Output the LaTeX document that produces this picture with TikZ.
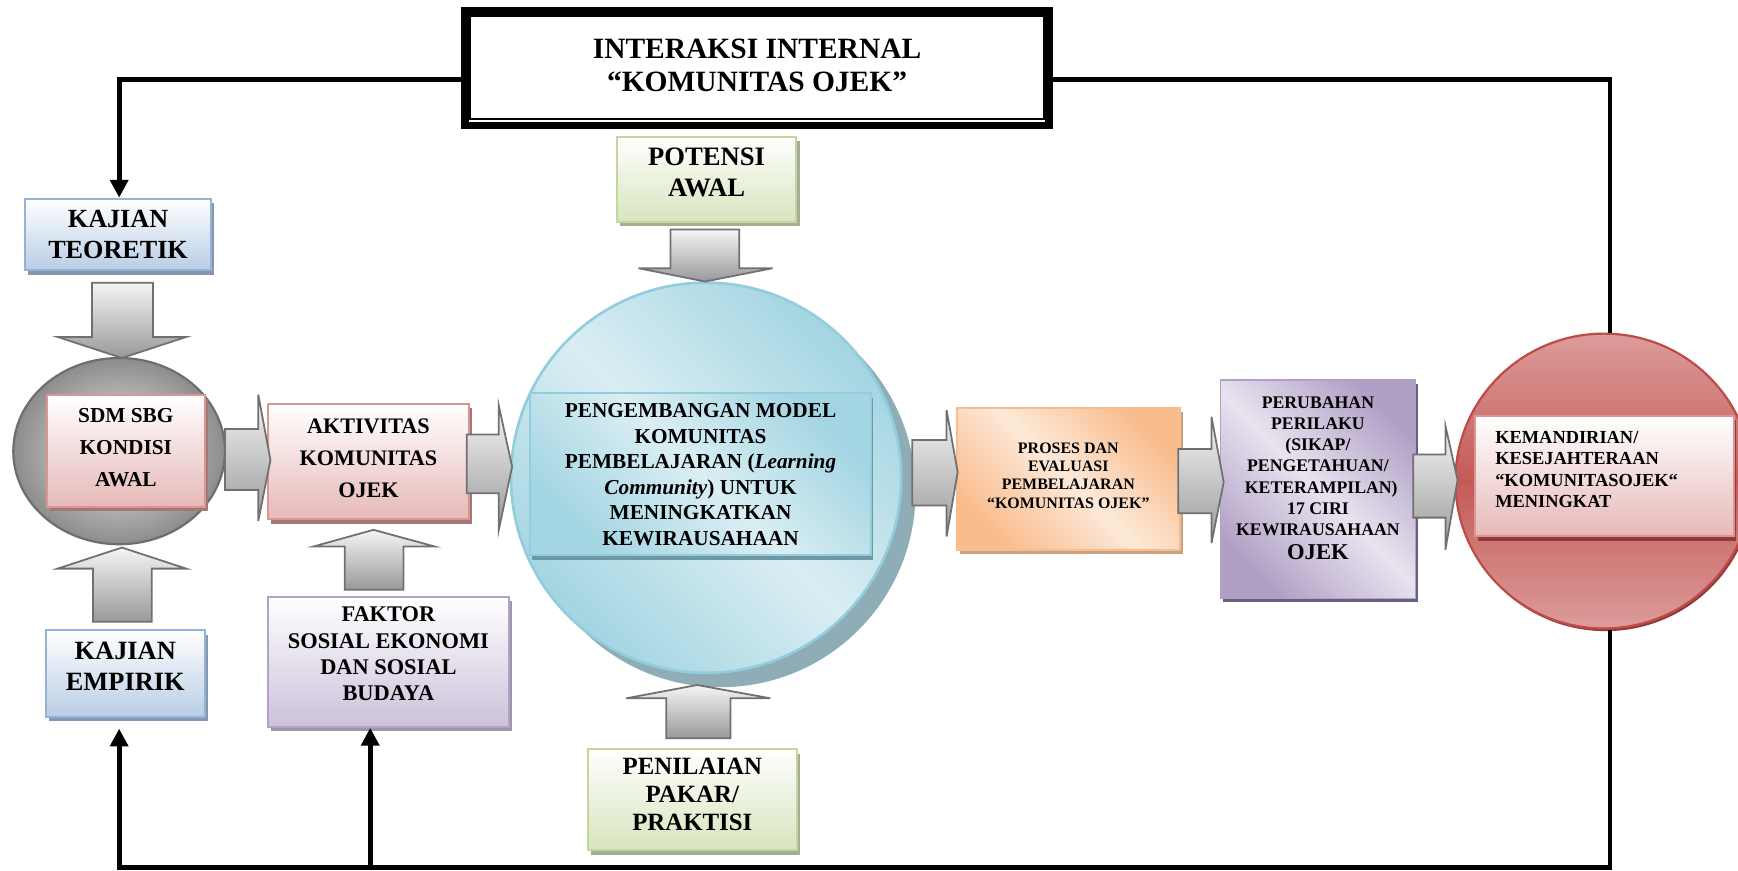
\documentclass[tikz,border=0pt]{standalone}
\usepackage{fontspec}
\setmainfont{Liberation Serif}
\usetikzlibrary{arrows.meta,shapes.geometric,shadows}
\definecolor{blueB}{HTML}{B9CDE5}
\definecolor{blueD}{HTML}{95B3D7}
\definecolor{blueS}{HTML}{8497B0}
\definecolor{pinkB}{HTML}{E6B9B8}
\definecolor{pinkD}{HTML}{D99694}
\definecolor{pinkS}{HTML}{A27876}
\definecolor{greenB}{HTML}{D7E4BD}
\definecolor{greenD}{HTML}{C3D69B}
\definecolor{greenS}{HTML}{A6AD96}
\definecolor{purB}{HTML}{CCC1DA}
\definecolor{purD}{HTML}{B3A2C7}
\definecolor{purS}{HTML}{9E95A9}
\definecolor{orD}{HTML}{F9BC8C}
\definecolor{orL}{HTML}{FDE9D9}
\definecolor{orS}{HTML}{C9A283}
\definecolor{vioD}{HTML}{B1A0C6}
\definecolor{vioL}{HTML}{E8E3EF}
\definecolor{vioS}{HTML}{6A5F7E}
\definecolor{aquaD}{HTML}{A3D5E2}
\definecolor{aquaL}{HTML}{DAEEF3}
\definecolor{aquaE}{HTML}{93CDDD}
\definecolor{aquaS}{HTML}{8FADB6}
\definecolor{aquaS2}{HTML}{6E98A4}
\definecolor{redL}{HTML}{DC9C9A}
\definecolor{redM}{HTML}{C45A57}
\definecolor{redE}{HTML}{BE4B48}
\definecolor{redS}{HTML}{8E3B39}
\definecolor{grayE}{HTML}{6E6E6E}
\definecolor{arrE}{HTML}{707070}
\newcommand{\hblk}[8]{\draw[blk] (#1,#4) -- (#2,#4) -- (#2,#6) -- (#3,#8) -- (#2,#7) -- (#2,#5) -- (#1,#5) -- cycle;}
\newcommand{\vblk}[8]{\draw[blk] (#4,#1) -- (#4,#2) -- (#6,#2) -- (#8,#3) -- (#7,#2) -- (#5,#2) -- (#5,#1) -- cycle;}
\tikzset{
  box/.style={align=center, inner sep=0pt, line width=0.9pt},
  bluebox/.style={box, draw=blueD, top color=white, bottom color=blueB,
    drop shadow={shadow xshift=1.5pt, shadow yshift=-2pt, fill=blueS, opacity=1}},
  pinkbox/.style={box, draw=pinkD, top color=white, bottom color=pinkB,
    drop shadow={shadow xshift=1.5pt, shadow yshift=-2pt, fill=pinkS, opacity=1}},
  greenbox/.style={box, draw=greenD, top color=white, bottom color=greenB,
    drop shadow={shadow xshift=1.5pt, shadow yshift=-2pt, fill=greenS, opacity=1}},
  purbox/.style={box, draw=purD, top color=white, bottom color=purB,
    drop shadow={shadow xshift=1.5pt, shadow yshift=-2pt, fill=purS, opacity=1}},
  orbox/.style={box, draw=orD, top color=orD, bottom color=orD, middle color=orL, shading angle=-45,
    drop shadow={shadow xshift=1.5pt, shadow yshift=-2pt, fill=orS, opacity=1}},
  viobox/.style={box, draw=vioD, line width=0.7pt, top color=vioD, bottom color=vioD, middle color=vioL, shading angle=-45,
    drop shadow={shadow xshift=1pt, shadow yshift=-1.5pt, fill=vioS, opacity=1}},
  aquabox/.style={box, draw=aquaE, top color=aquaD, bottom color=aquaD, middle color=aquaL, shading angle=-45,
    drop shadow={shadow xshift=1pt, shadow yshift=-2pt, fill=aquaS2, opacity=1}},
  redbox/.style={box, draw=pinkD, top color=white, bottom color=pinkB,
    drop shadow={shadow xshift=1pt, shadow yshift=-2pt, fill=redS, opacity=1}},
  blk/.style={draw=arrE, line width=0.8pt, line join=miter, top color=white!96!black, bottom color=black!40},
  link/.style={line width=2.25pt, line join=miter, draw=black},
  linkarrow/.style={link, -{Triangle[width=8pt,length=8pt]}},
  fs/.style 2 args={font=\bfseries\fontsize{#1}{#2}\selectfont}
}
\begin{document}
\begin{tikzpicture}[x=0.5pt,y=-0.5pt]
\useasboundingbox (0,0) rectangle (1568,785);

% ---------- title ----------
\node[draw, line width=3.5pt, minimum width=263.5pt, minimum height=51.6pt, align=center, inner sep=0pt,
      fs={13.3pt}{15pt}, text depth=3pt] (title) at (683,61.6)
  {INTERAKSI INTERNAL\\“KOMUNITAS OJEK”};
\draw[line width=0.9pt] ([shift={(4pt,-4pt)}]title.north west) rectangle ([shift={(-4.2pt,4.5pt)}]title.south east);

% ---------- circles ----------
\node[ellipse, minimum width=95.5pt, minimum height=84pt, draw=grayE, line width=1pt,
      inner color=black!8, outer color=black!45] (sdm) at (107.5,407) {};
\node[circle, minimum size=176pt, draw=aquaE, line width=1.2pt,
      top color=aquaD, bottom color=aquaD, middle color=aquaL, shading angle=-45,
      drop shadow={shadow xshift=6.5pt, shadow yshift=-6.5pt, fill=aquaS, opacity=1}] (big) at (637,431) {};
\node[ellipse, minimum width=134pt, minimum height=133pt, draw=redE, line width=1pt,
      top color=redL, bottom color=redL, middle color=redM,
      drop shadow={shadow xshift=0.8pt, shadow yshift=-1.2pt, fill=redS, opacity=1}] (red) at (1447,434) {};

% ---------- boxes ----------
\node[bluebox, minimum width=84pt, minimum height=32.3pt, fs={11.8pt}{14pt}] (kt) at (106.5,211.5) {KAJIAN\\TEORETIK};
\node[pinkbox, minimum width=71.5pt, minimum height=50.5pt, fs={9.6pt}{14.5pt}, text depth=3pt] (sdmb) at (113.5,406.5) {SDM SBG\\KONDISI\\AWAL};
\node[bluebox, minimum width=71.5pt, minimum height=39pt, fs={11.9pt}{14.3pt}, text depth=6.5pt] (ke) at (113,607.5) {KAJIAN\\EMPIRIK};
\node[pinkbox, minimum width=90.5pt, minimum height=52pt, fs={10pt}{14.3pt}, text depth=3pt] (akt) at (332.4,416.5) {AKTIVITAS\\KOMUNITAS\\OJEK};
\node[purbox, minimum width=108.5pt, minimum height=58.8pt, fs={10.1pt}{11.85pt}, text depth=7pt] (faktor) at (350.4,597) {FAKTOR\\SOSIAL EKONOMI\\DAN SOSIAL\\BUDAYA};
\node[greenbox, minimum width=81pt, minimum height=38.5pt, fs={12pt}{14.2pt}, text depth=6.4pt] (pot) at (637.5,161.7) {POTENSI\\AWAL};
\node[greenbox, minimum width=94pt, minimum height=45.5pt, fs={11.2pt}{12.5pt}, text depth=4.8pt] (pen) at (624.6,721.5) {PENILAIAN\\PAKAR/\\PRAKTISI};
\node[aquabox, minimum width=154pt, minimum height=73pt, fs={9.6pt}{11.5pt}] (bigin) at (632,428)
  {PENGEMBANGAN MODEL\\KOMUNITAS\\PEMBELAJARAN (\textit{Learning}\\\textit{Community}) UNTUK\\MENINGKATKAN\\KEWIRAUSAHAAN};
\node[orbox, minimum width=100.8pt, minimum height=63.9pt, fs={7.2pt}{8.3pt}, text depth=3pt] (proses) at (963.8,432)
  {PROSES DAN\\EVALUASI\\PEMBELAJARAN\\“KOMUNITAS OJEK”};
\node[viobox, minimum width=88pt, minimum height=98.5pt, fs={8pt}{9.5pt}, text depth=10pt] (peru) at (1189,441.5)
  {PERUBAHAN\\PERILAKU\\(SIKAP/\\PENGETAHUAN/\\\hspace*{3pt}KETERAMPILAN)\\17 CIRI\\KEWIRAUSAHAAN\\[1.5pt]{\fontsize{10.2pt}{12pt}\selectfont OJEK}};
\node[redbox, minimum width=116.5pt, minimum height=54.5pt, text width=98.5pt, inner xsep=9pt, align=left,
      fs={8.3pt}{9.7pt}, text depth=35pt] (redin) at (1447.5,429.5)
  {KEMANDIRIAN/\\KESEJAHTERAAN\\“KOMUNITASOJEK“\\MENINGKAT};

% ---------- block arrows ----------
\vblk{255}{304}{323}{83}{138}{52}{168}{110}
\vblk{561}{513}{494}{84}{137}{52}{168}{110}
\vblk{207}{242}{254}{605}{667}{576}{697}{636}
\vblk{666}{630}{618}{601}{659}{565}{695}{629}
\vblk{532}{493}{478}{311}{364}{283}{392}{337}
\hblk{203}{233}{244}{387}{442}{356}{470}{415}
\hblk{421}{450}{462}{392}{445}{366}{478}{421}
\hblk{823}{854}{864}{397}{456}{370}{484}{426}
\hblk{1063}{1093}{1104}{405}{463}{376}{490}{435}
\hblk{1275}{1304}{1315}{410}{467}{384}{496}{433}

% ---------- feedback lines ----------
\coordinate (tl) at (107.5,71.5);
\coordinate (tr) at (1452.5,71.5);
\coordinate (bl) at (107.5,783);
\coordinate (bm) at (334,783);
\coordinate (br) at (1452.5,783);
\draw[linkarrow] (title.west |- tl) -- (tl) -- (tl |- kt.north);
\draw[link] (title.east |- tr) -- (tr) -- (tr |- red.north);
\draw[linkarrow, shorten >=5pt] (tr |- red.south) -- (br) -- (bl) -- (bl |- ke.south);
\draw[linkarrow] (bm) -- (bm |- faktor.south);
\end{tikzpicture}
\end{document}
